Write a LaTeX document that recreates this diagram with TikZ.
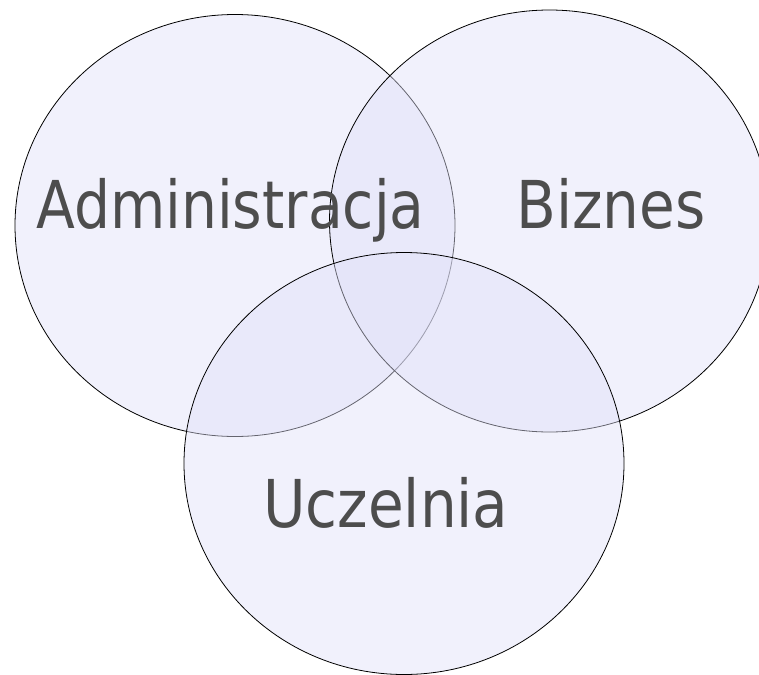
\documentclass[tikz,border=0pt]{standalone}
\usepackage{fontspec}
\usepackage{xcolor}
\usepackage{tikz}
\newfontfamily\vennfont[FakeStretch=0.88]{DejaVu Sans}
\newfontfamily\venntightfont[FakeStretch=0.86]{DejaVu Sans}
\definecolor{vennfill}{RGB}{224,224,248}
\definecolor{venntext}{RGB}{77,77,77}

\begin{document}
\begin{tikzpicture}[x=1pt, y=-1pt,
    set/.style={draw=black, line width=0.8pt, fill=vennfill, fill opacity=0.45},
    label/.style={anchor=base west, inner sep=0pt, text=venntext,
      font=\vennfont\fontsize{66}{70}\selectfont}]
    \useasboundingbox (0,0) rectangle (759,674);

    \coordinate (Adm) at (235, 225.5);
    \coordinate (Biz) at (549.5, 221);
    \coordinate (Ucz) at (404, 463.5);

    \coordinate (Admt) at (36, 228);
    \coordinate (Bizt) at (516, 228);
    \coordinate (Uczt) at (263, 527);

    \draw[set] (Adm) ellipse [x radius=220pt, y radius=211pt];
    \draw[set] (Biz) ellipse [x radius=220pt, y radius=211pt];
    \draw[set] (Ucz) ellipse [x radius=220pt, y radius=211pt];

    \node[label, font=\venntightfont\fontsize{66}{70}\selectfont] (adm) at (Admt) {Administracja};
    \node[label] (biz) at (Bizt) {Biznes};
    \node[label] (ucz) at (Uczt) {Uczelnia};
  \end{tikzpicture}
\end{document}
